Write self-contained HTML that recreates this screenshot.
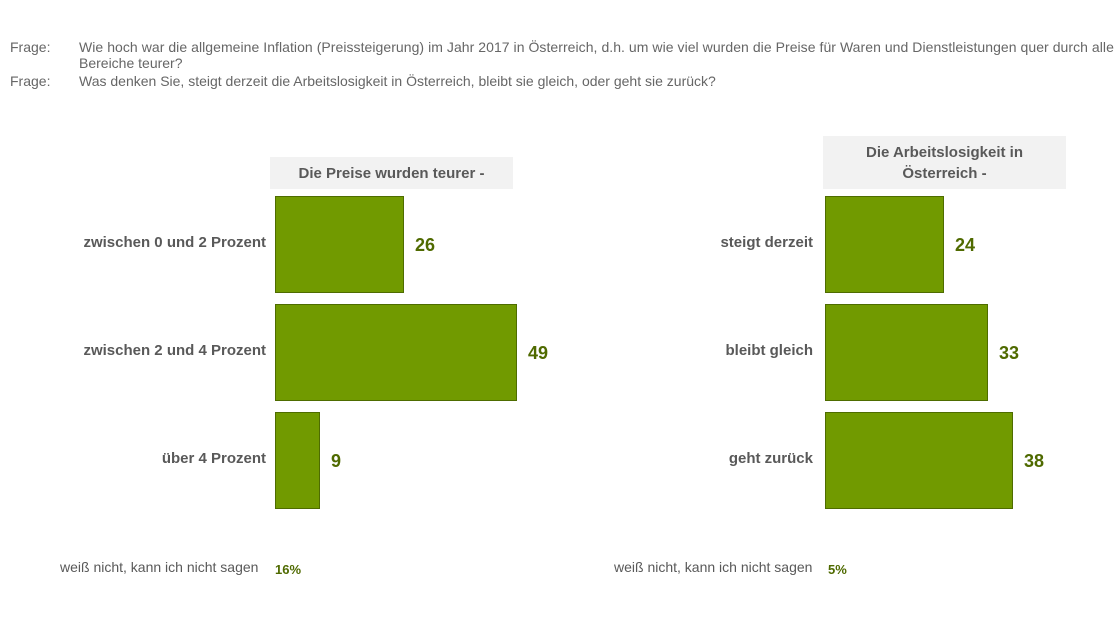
<!DOCTYPE html>
<html><head><meta charset="utf-8"><style>
body{margin:0;width:1116px;height:621px;background:#fff;font-family:"Liberation Sans",sans-serif;position:relative;overflow:hidden;color:#595959}
.a{position:absolute;white-space:nowrap}
.q{font-size:14px;color:#666}
.bar{position:absolute;background:#719a00;border:1.5px solid #4e6c00;box-sizing:border-box}
.v{position:absolute;font-size:18px;font-weight:bold;color:#4f6a00}
.lab{position:absolute;font-size:15px;font-weight:bold;color:#595959;text-align:right;white-space:nowrap}
.hd{position:absolute;background:#f2f2f2;font-size:15px;font-weight:bold;color:#595959;text-align:center;display:flex;align-items:center;justify-content:center;line-height:21px}
.wn{position:absolute;font-size:14px;color:#595959;white-space:nowrap}
.pc{position:absolute;font-size:13px;font-weight:bold;color:#4f6a00}
</style></head><body>
<div class="a q" style="left:10px;top:39px">Frage:</div>
<div class="a q" style="left:79px;top:39px;letter-spacing:0.05px">Wie hoch war die allgemeine Inflation (Preissteigerung) im Jahr 2017 in Österreich, d.h. um wie viel wurden die Preise für Waren und Dienstleistungen quer durch alle</div>
<div class="a q" style="left:79px;top:55px">Bereiche teurer?</div>
<div class="a q" style="left:10px;top:73px">Frage:</div>
<div class="a q" style="left:79px;top:73px">Was denken Sie, steigt derzeit die Arbeitslosigkeit in Österreich, bleibt sie gleich, oder geht sie zurück?</div>

<div class="hd" style="left:270px;top:157px;width:243px;height:32px">Die Preise wurden teurer -</div>
<div class="hd" style="left:823px;top:136px;width:243px;height:53px">Die Arbeitslosigkeit in<br>Österreich -</div>

<div class="lab" style="right:850px;top:234px">zwischen 0 und 2 Prozent</div>
<div class="lab" style="right:850px;top:342px">zwischen 2 und 4 Prozent</div>
<div class="lab" style="right:850px;top:450px">über 4 Prozent</div>
<div class="bar" style="left:275px;top:196px;width:129px;height:97px"></div>
<div class="bar" style="left:275px;top:304px;width:242px;height:97px"></div>
<div class="bar" style="left:275px;top:412px;width:45px;height:97px"></div>
<div class="v" style="left:415px;top:235px">26</div>
<div class="v" style="left:528px;top:343px">49</div>
<div class="v" style="left:331px;top:451px">9</div>

<div class="lab" style="right:303px;top:234px">steigt derzeit</div>
<div class="lab" style="right:303px;top:342px">bleibt gleich</div>
<div class="lab" style="right:303px;top:450px">geht zurück</div>
<div class="bar" style="left:825px;top:196px;width:119px;height:97px"></div>
<div class="bar" style="left:825px;top:304px;width:163px;height:97px"></div>
<div class="bar" style="left:825px;top:412px;width:188px;height:97px"></div>
<div class="v" style="left:955px;top:235px">24</div>
<div class="v" style="left:999px;top:343px">33</div>
<div class="v" style="left:1024px;top:451px">38</div>

<div class="wn" style="left:60px;top:559px">weiß nicht, kann ich nicht sagen</div>
<div class="pc" style="left:275px;top:562px">16%</div>
<div class="wn" style="left:614px;top:559px">weiß nicht, kann ich nicht sagen</div>
<div class="pc" style="left:828px;top:562px">5%</div>
</body></html>
